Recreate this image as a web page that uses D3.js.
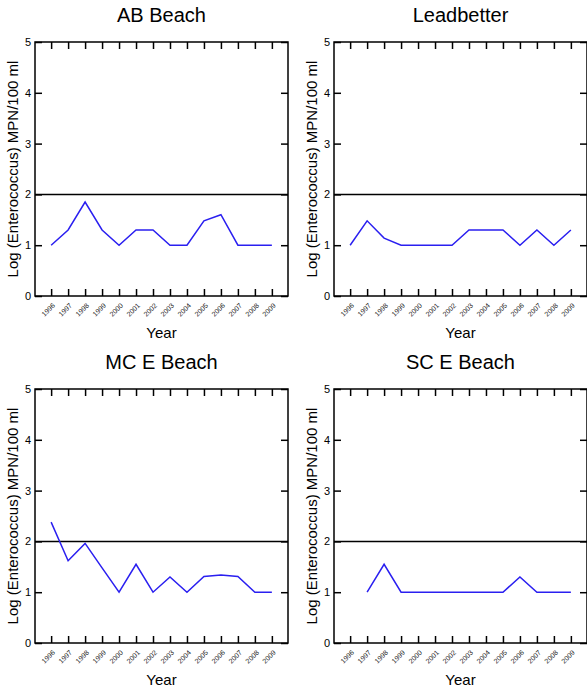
<!DOCTYPE html>
<html>
<head>
<meta charset="utf-8">
<script src="https://cdn.jsdelivr.net/npm/d3@7"></script>
<style>
  body { margin: 0; background: #fff; }
  svg { display: block; font-family: Arial, "Liberation Sans", sans-serif; }
</style>
</head>
<body>
<div id="chart"></div>
<script>
const years = [1996, 1997, 1998, 1999, 2000, 2001, 2002, 2003, 2004, 2005, 2006, 2007, 2008, 2009];
const yTicks = [0, 1, 2, 3, 4, 5];
const threshold = 2;

const titles = ["AB Beach", "Leadbetter", "MC E Beach", "SC E Beach"];
const abBeach = [1.0, 1.3, 1.85, 1.3, 1.0, 1.3, 1.3, 1.0, 1.0, 1.48, 1.6, 1.0, 1.0, 1.0];
const leadbetter = [1.0, 1.48, 1.14, 1.0, 1.0, 1.0, 1.0, 1.3, 1.3, 1.3, 1.0, 1.3, 1.0, 1.3];
const mcEBeach = [2.38, 1.62, 1.96, 1.48, 1.0, 1.55, 1.0, 1.3, 1.0, 1.31, 1.34, 1.31, 1.0, 1.0];
const scEBeach = [null, 1.0, 1.55, 1.0, 1.0, 1.0, 1.0, 1.0, 1.0, 1.0, 1.3, 1.0, 1.0, 1.0];
const seriesList = [abBeach, leadbetter, mcEBeach, scEBeach];

const width = 587, height = 691;
const plotW = 253, plotH = 254;
const origins = [[35, 42], [334, 42], [35, 389], [334, 389]];

const svg = d3.select("#chart")
  .append("svg")
  .attr("width", width)
  .attr("height", height);

seriesList.forEach((vals, i) => {
  const [ox, oy] = origins[i];
  const g = svg.append("g").attr("transform", `translate(${ox},${oy})`);

  const x = d3.scalePoint()
    .domain(years)
    .range([0, plotW])
    .padding(0.95);

  const y = d3.scaleLinear()
    .domain([0, 5])
    .range([plotH, 0]);

  // bottom axis, ticks pointing in, labels turned 45 degrees
  const xAxis = g.append("g")
    .attr("transform", `translate(0,${plotH})`)
    .call(d3.axisBottom(x).tickSizeInner(-7).tickSizeOuter(0));
  xAxis.selectAll("text")
    .attr("font-size", 7)
    .attr("fill", "#222")
    .attr("text-anchor", "end")
    .attr("dy", null)
    .attr("x", 0).attr("y", 0)
    .attr("transform", "translate(4,10) rotate(-45)");

  g.append("g")
    .call(d3.axisTop(x).tickSizeInner(-7).tickSizeOuter(0).tickFormat(""));

  g.append("g")
    .call(d3.axisLeft(y).tickValues(yTicks).tickSizeInner(-7).tickSizeOuter(0)
      .tickPadding(4).tickFormat(d3.format("d")))
    .selectAll("text").attr("font-size", 11);

  g.append("g")
    .attr("transform", `translate(${plotW},0)`)
    .call(d3.axisRight(y).tickValues(yTicks).tickSizeInner(-7).tickSizeOuter(0).tickFormat(""));

  g.selectAll(".domain").remove();
  g.selectAll(".tick line").attr("stroke", "#000").attr("stroke-width", 1.5);

  g.append("rect")
    .attr("width", plotW)
    .attr("height", plotH)
    .attr("fill", "none")
    .attr("stroke", "#000")
    .attr("stroke-width", 1.5);

  g.append("line")
    .attr("x1", 0).attr("x2", plotW)
    .attr("y1", y(threshold)).attr("y2", y(threshold))
    .attr("stroke", "#000")
    .attr("stroke-width", 1.5);

  const line = d3.line()
    .defined(d => d.v != null)
    .x(d => x(d.year))
    .y(d => y(d.v));

  g.append("path")
    .datum(years.map((yr, j) => ({year: yr, v: vals[j]})))
    .attr("d", line)
    .attr("fill", "none")
    .attr("stroke", "#2a1ff0")
    .attr("stroke-width", 1.5);

  g.append("text")
    .attr("x", plotW / 2)
    .attr("y", -20)
    .attr("text-anchor", "middle")
    .attr("font-size", 20)
    .text(titles[i]);

  g.append("text")
    .attr("x", plotW / 2)
    .attr("y", plotH + 42)
    .attr("text-anchor", "middle")
    .attr("font-size", 15)
    .text("Year");

  g.append("text")
    .attr("transform", `translate(-17,${plotH / 2}) rotate(-90)`)
    .attr("text-anchor", "middle")
    .attr("font-size", 15)
    .text("Log (Enterococcus) MPN/100 ml");
});
</script>
</body>
</html>
